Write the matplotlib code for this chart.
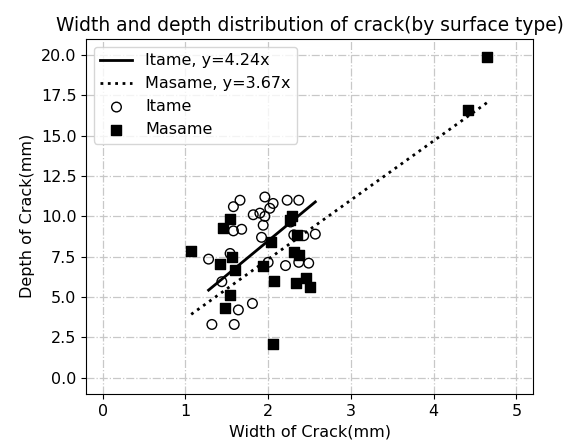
import numpy as np
import matplotlib
matplotlib.use("Agg")
import matplotlib.pyplot as plt

# Itame (open circles)
itame_w = [1.96, 1.66, 2.23, 2.37, 1.58, 2.06, 2.02, 1.82, 1.90, 1.96,
           1.94, 2.27, 1.68, 1.58, 1.92, 2.31, 2.43, 2.57, 1.54, 1.28,
           2.00, 2.21, 2.37, 2.49, 1.44, 1.64, 1.81, 1.32, 1.59]
itame_d = [11.2, 11.0, 11.0, 11.0, 10.6, 10.8, 10.5, 10.1, 10.2, 10.0,
           9.45, 9.65, 9.2, 9.1, 8.7, 8.85, 8.8, 8.9, 7.7, 7.35,
           7.15, 6.95, 7.15, 7.1, 5.95, 4.2, 4.6, 3.3, 3.3]

# Masame (filled squares)
masame_w = [1.07, 1.54, 1.46, 1.42, 1.56, 1.60, 1.54, 1.48, 1.94, 2.04,
            2.07, 2.06, 2.29, 2.27, 2.35, 2.31, 2.37, 2.34, 2.46, 2.50,
            4.42, 4.65]
masame_d = [7.85, 9.85, 9.3, 7.05, 7.5, 6.7, 5.15, 4.3, 6.95, 8.4,
            6.0, 2.1, 10.0, 9.75, 8.85, 7.8, 7.6, 5.9, 6.15, 5.6,
            16.6, 19.9]

itame_slope = 4.24
masame_slope = 3.67

plt.rcParams["font.size"] = 11.5

fig = plt.figure(figsize=(5.78, 4.42), dpi=100)
ax = fig.add_axes([0.149, 0.109, 0.773, 0.803])

# fitted lines through the origin, drawn over each group's width range
xi = np.array([min(itame_w), max(itame_w)])
xm = np.array([min(masame_w), max(masame_w)])
ax.plot(xi, itame_slope * xi, color="black", lw=2, label="Itame, y=4.24x")
ax.plot(xm, masame_slope * xm, color="black", lw=2, ls=":", label="Masame, y=3.67x")

ax.scatter(itame_w, itame_d, s=48, facecolors="none", edgecolors="black", label="Itame")
ax.scatter(masame_w, masame_d, s=55, marker="s", color="black", label="Masame")

ax.set_xlim(-0.2, 5.2)
ax.set_ylim(-1, 21)
ax.set_xticks([0, 1, 2, 3, 4, 5])
ax.set_yticks(np.arange(0, 20.1, 2.5))
ax.grid(True, ls="-.", color="#c8c8c8", lw=0.9)
ax.set_axisbelow(True)

ax.set_title("Width and depth distribution of crack(by surface type)", fontsize=13.4)
ax.set_xlabel("Width of Crack(mm)")
ax.set_ylabel("Depth of Crack(mm)")
ax.legend(loc="upper left")

fig.savefig("out.png", dpi=100)
